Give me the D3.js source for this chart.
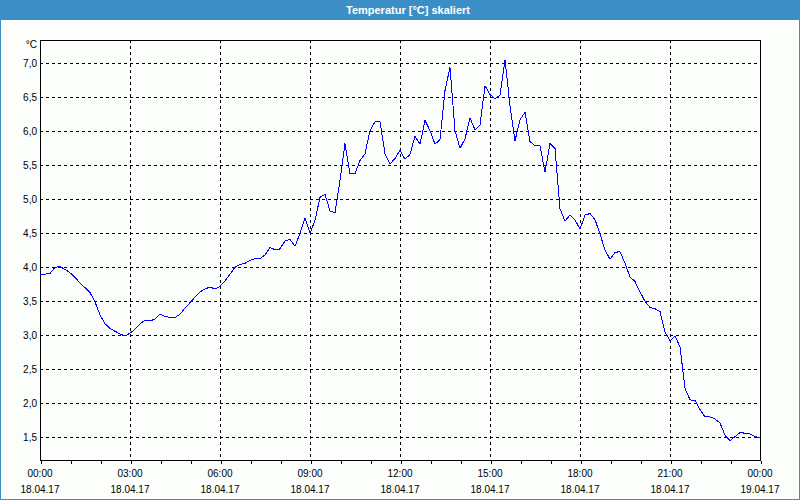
<!DOCTYPE html>
<html>
<head>
<meta charset="utf-8">
<script src="https://cdn.jsdelivr.net/npm/d3@7"></script>
<style>
  html, body { margin: 0; padding: 0; background: #fcfefc; }
  svg { display: block; }
</style>
</head>
<body>
<svg id="chart" width="800" height="500"></svg>
<script>
// ---- data (10-minute readings, 18.04.17 00:00 .. 19.04.17 00:00) ----
const title = "Temperatur [°C] skaliert";
const unitLabel = "°C";
const startTime = new Date(2017, 3, 18, 0, 0);
const stepMinutes = 10;
const temperatures = [
  3.90, 3.90, 3.91, 4.00, 4.01, 3.97, 3.92, 3.85, 3.77, 3.70,
  3.63, 3.49, 3.30, 3.17, 3.10, 3.06, 3.02, 2.99, 3.03, 3.09,
  3.17, 3.22, 3.21, 3.24, 3.31, 3.28, 3.26, 3.26, 3.31, 3.40,
  3.48, 3.56, 3.64, 3.68, 3.71, 3.68, 3.72, 3.80, 3.90, 4.00,
  4.04, 4.06, 4.10, 4.13, 4.13, 4.18, 4.29, 4.26, 4.27, 4.39,
  4.41, 4.31, 4.50, 4.72, 4.50, 4.69, 5.03, 5.07, 4.83, 4.80,
  5.28, 5.82, 5.38, 5.38, 5.57, 5.67, 6.01, 6.14, 6.14, 5.67,
  5.52, 5.60, 5.72, 5.59, 5.66, 5.93, 5.81, 6.16, 6.01, 5.81,
  5.88, 6.60, 6.94, 6.01, 5.75, 5.89, 6.20, 6.02, 6.09, 6.67,
  6.54, 6.48, 6.53, 7.05, 6.38, 5.86, 6.17, 6.28, 5.85, 5.79,
  5.79, 5.40, 5.82, 5.75, 4.86, 4.68, 4.77, 4.70, 4.56, 4.77,
  4.79, 4.70, 4.49, 4.25, 4.12, 4.22, 4.23, 4.06, 3.86, 3.79,
  3.64, 3.50, 3.41, 3.39, 3.35, 3.05, 2.92, 2.99, 2.83, 2.22,
  2.05, 2.04, 1.91, 1.80, 1.80, 1.77, 1.71, 1.53, 1.45, 1.51,
  1.57, 1.56, 1.55, 1.51, 1.49
];
const yTicks = [1.5, 2.0, 2.5, 3.0, 3.5, 4.0, 4.5, 5.0, 5.5, 6.0, 6.5, 7.0];
const xTickHours = [0, 3, 6, 9, 12, 15, 18, 21, 24];
const xTickTimeLabels = ["00:00", "03:00", "06:00", "09:00", "12:00", "15:00", "18:00", "21:00", "00:00"];
const xTickDateLabels = ["18.04.17", "18.04.17", "18.04.17", "18.04.17", "18.04.17", "18.04.17", "18.04.17", "18.04.17", "19.04.17"];

// ---- layout ----
const W = 800, H = 500;
const plot = { left: 40, right: 760, top: 40, bottom: 460 };
const font = "'Liberation Sans', Arial, sans-serif";
const borderColor = "#3c8fc6";

const svg = d3.select("#chart");

const points = temperatures.map((v, i) => ({ t: d3.timeMinute.offset(startTime, i * stepMinutes), v }));
const endTime = d3.timeHour.offset(startTime, 24);

const x = d3.scaleTime().domain([startTime, endTime]).range([plot.left, plot.right]);
const y = d3.scaleLinear().domain([1.166, 7.343]).range([plot.bottom, plot.top]);

// background + window border
svg.append("rect").attr("x", 0.5).attr("y", 0.5).attr("width", W - 1).attr("height", H - 1)
  .attr("fill", "#fcfefc").attr("stroke", borderColor).attr("stroke-width", 1);
svg.append("rect").attr("x", 0).attr("y", 0).attr("width", W).attr("height", 20).attr("fill", borderColor);
svg.append("text").attr("x", 408).attr("y", 14).attr("text-anchor", "middle")
  .attr("font-family", font).attr("font-size", 11).attr("font-weight", "bold")
  .attr("fill", "#ffffff").text(title);

// grid
const grid = svg.append("g").attr("stroke", "#000").attr("stroke-width", 1).attr("stroke-dasharray", "3,3").attr("shape-rendering", "crispEdges");
grid.selectAll("line.h").data(yTicks).join("line").attr("class", "h")
  .attr("x1", plot.left).attr("x2", plot.right)
  .attr("y1", d => Math.round(y(d)) + 0.5).attr("y2", d => Math.round(y(d)) + 0.5);
grid.selectAll("line.v").data(xTickHours.filter(h => h > 0 && h < 24)).join("line").attr("class", "v")
  .attr("x1", d => Math.round(x(d3.timeHour.offset(startTime, d))) + 0.5)
  .attr("x2", d => Math.round(x(d3.timeHour.offset(startTime, d))) + 0.5)
  .attr("y1", plot.top).attr("y2", plot.bottom);

// frame
svg.append("rect").attr("x", plot.left + 0.5).attr("y", plot.top + 0.5)
  .attr("width", plot.right - plot.left).attr("height", plot.bottom - plot.top)
  .attr("fill", "none").attr("stroke", "#000").attr("stroke-width", 1).attr("shape-rendering", "crispEdges");

// x axis (hourly ticks, labels every 3h)
const xAxis = d3.axisBottom(x).ticks(d3.timeHour.every(1)).tickSize(3).tickFormat("");
const gx = svg.append("g").attr("transform", `translate(0.5,${plot.bottom + 0.5})`).call(xAxis);
gx.select(".domain").remove();
gx.selectAll("line").attr("stroke", "#000").attr("shape-rendering", "crispEdges");

const xl = svg.append("g").attr("font-family", font).attr("font-size", 10).attr("fill", "#000").attr("text-anchor", "middle");
xl.selectAll("text.time").data(xTickHours).join("text").attr("class", "time")
  .attr("x", d => x(d3.timeHour.offset(startTime, d))).attr("y", 477)
  .text((d, i) => xTickTimeLabels[i]);
xl.selectAll("text.date").data(xTickHours).join("text").attr("class", "date")
  .attr("x", d => x(d3.timeHour.offset(startTime, d))).attr("y", 493)
  .text((d, i) => xTickDateLabels[i]);

// y labels
const yl = svg.append("g").attr("font-family", font).attr("font-size", 10).attr("fill", "#000").attr("text-anchor", "end");
yl.selectAll("text").data(yTicks).join("text")
  .attr("x", 37).attr("y", d => y(d) + 3.5)
  .text(d => d.toFixed(1).replace(".", ","));
yl.append("text").attr("x", 37).attr("y", 48).text(unitLabel);

// line
const line = d3.line().x(d => x(d.t)).y(d => y(d.v));
svg.append("path").datum(points).attr("d", line)
  .attr("fill", "none").attr("stroke", "#0000ff").attr("stroke-width", 1)
  .attr("shape-rendering", "crispEdges");
</script>
</body>
</html>
